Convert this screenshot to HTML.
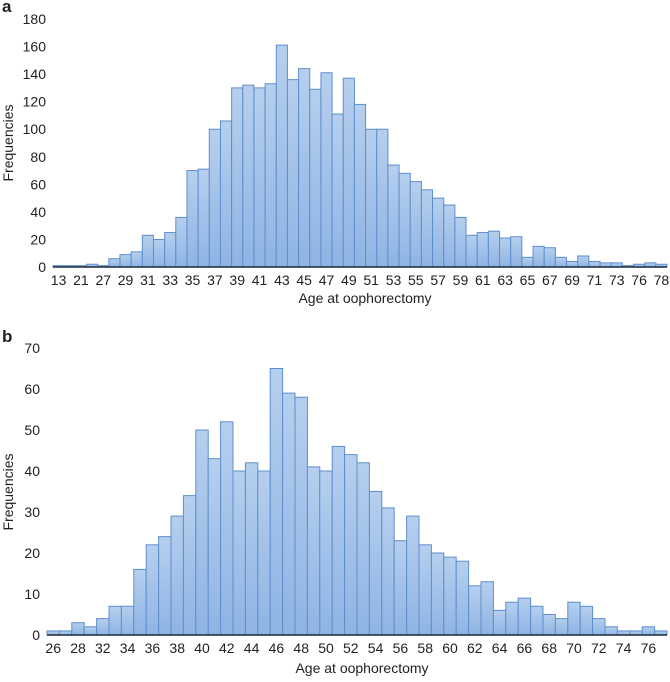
<!DOCTYPE html>
<html><head><meta charset="utf-8"><style>
body{margin:0;background:#fff;width:670px;height:677px;overflow:hidden}
text{font-family:"Liberation Sans Narrow","Liberation Sans",sans-serif;fill:#222}
</style></head><body>
<svg id="svg" width="670" height="677" xmlns="http://www.w3.org/2000/svg">
<defs><linearGradient id="g" x1="0" y1="0" x2="0" y2="1"><stop offset="0" stop-color="#b6cfee"/><stop offset="1" stop-color="#8fb4e3"/></linearGradient></defs>
<text x="2" y="12" font-weight="bold" font-size="17" style="font-family:'Liberation Sans',sans-serif">a</text>
<text x="2" y="342" font-weight="bold" font-size="17" style="font-family:'Liberation Sans',sans-serif">b</text>
</svg>
<script>
const labelsA=["13","","21","","27","","29","","31","","33","","35","","37","","39","","41","","43","","45","","47","","49","","51","","53","","55","","57","","59","","61","","63","","65","","67","","69","","71","","73","","76","","78"];
const valuesA=[1,1,1,2,1,6,9,11,23,20,25,36,70,71,100,106,130,132,130,133,161,136,144,129,141,111,137,118,100,100,74,68,62,56,50,45,36,23,25,26,21,22,7,15,14,7,4,8,4,3,3,1,2,3,2];
const ticksA=[0,20,40,60,80,100,120,140,160,180];
const labelsB=["26","","28","","32","","34","","36","","38","","40","","42","","44","","46","","48","","50","","52","","54","","56","","58","","60","","62","","64","","66","","68","","70","","72","","74","","76",""];
const valuesB=[1,1,3,2,4,7,7,16,22,24,29,34,50,43,52,40,42,40,65,59,58,41,40,46,44,42,35,31,23,29,22,20,19,18,12,13,6,8,9,7,5,4,8,7,4,2,1,1,2,1];
const ticksB=[0,10,20,30,40,50,60,70];
const svg=document.getElementById('svg');
const NS='http://www.w3.org/2000/svg';
function mk(tag,attrs,parent){const e=document.createElementNS(NS,tag);for(const k in attrs)e.setAttribute(k,attrs[k]);(parent||svg).appendChild(e);return e;}
function chart(id,labels,values,ticks,x0,x1,y0,y1,ymax,ylabX,xlabY,titleY,ytitleY){
  const g=mk('g',{});
  
  
  const n=values.length,bw=(x1-x0)/n;
  const ys=v=>y0-(v/ymax)*(y0-y1);
  ticks.forEach(t=>{const tx=mk('text',{x:ylabX,y:ys(t)+5,'text-anchor':'end','font-size':'14'},g);tx.textContent=t;
    
    });
  values.forEach((v,i)=>{const r=mk('rect',{x:x0+i*bw,y:ys(v),width:bw,height:y0-ys(v),fill:'url(#g)',stroke:'#5e8fcc','stroke-width':'1'},g);
    
    
    if(labels[i]){const tx=mk('text',{x:x0+(i+0.5)*bw,y:xlabY,'text-anchor':'middle','font-size':'14'},g);tx.textContent=labels[i];
      
      }
  });
  const ax=mk('line',{x1:x0,x2:x1,y1:y0,y2:y0,stroke:'#1a2a3a','stroke-width':'1.6'},g);
  
  
  const xt=mk('text',{x:(x0+x1)/2+5,y:titleY,'text-anchor':'middle','font-size':'14'},g);xt.textContent='Age at oophorectomy';
  
  
  const yt=mk('text',{x:0,y:0,'text-anchor':'middle','font-size':'14',transform:'translate(13,'+ytitleY+') rotate(-90)'},g);yt.textContent='Frequencies';
  
  
}
chart('a',labelsA,valuesA,ticksA,53,667,267,19,180,46,285,303,143);
chart('b',labelsB,valuesB,ticksB,47,667,635,348,70,40,653,673,492);
</script>
</body></html>
